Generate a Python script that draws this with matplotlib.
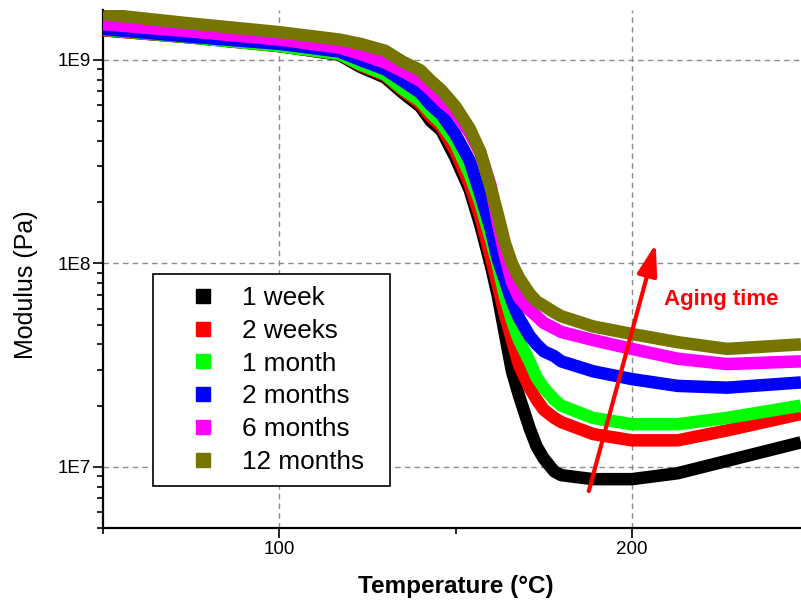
import matplotlib
matplotlib.use("Agg")
import matplotlib.pyplot as plt
from matplotlib.lines import Line2D
from matplotlib.ticker import FixedLocator, LogLocator, NullFormatter

plt.rcParams['font.family'] = ['Liberation Sans', 'DejaVu Sans']

# ---- data ----
temps = [50, 75, 100, 117, 123, 130, 135, 140, 143, 146, 150, 154, 157, 160,
         162, 164, 166, 168, 171, 173, 175, 178, 180, 189, 200, 213, 227, 248]

week1 = [1.40e9, 1.29e9, 1.17e9, 1.06e9, 9.25e8, 8.2e8, 6.9e8, 5.9e8, 5.0e8, 4.5e8,
         3.3e8, 2.3e8, 1.55e8, 9.8e7, 6.9e7, 4.5e7, 2.95e7, 2.24e7, 1.55e7, 1.26e7,
         1.10e7, 9.5e6, 9.1e6, 8.7e6, 8.7e6, 9.3e6, 1.07e7, 1.32e7]
weeks2 = [1.40e9, 1.29e9, 1.17e9, 1.07e9, 9.4e8, 8.4e8, 7.1e8, 6.1e8, 5.25e8, 4.7e8,
          3.55e8, 2.45e8, 1.70e8, 1.07e8, 7.8e7, 5.6e7, 4.2e7, 3.16e7, 2.45e7, 2.14e7,
          1.91e7, 1.74e7, 1.66e7, 1.45e7, 1.35e7, 1.35e7, 1.51e7, 1.82e7]
month1 = [1.41e9, 1.29e9, 1.17e9, 1.07e9, 9.5e8, 8.5e8, 7.2e8, 6.3e8, 5.5e8, 4.9e8,
          3.9e8, 2.75e8, 2.0e8, 1.32e8, 9.8e7, 6.9e7, 5.25e7, 4.2e7, 3.3e7, 2.75e7,
          2.45e7, 2.14e7, 2.0e7, 1.74e7, 1.62e7, 1.62e7, 1.74e7, 2.0e7]
months2 = [1.42e9, 1.30e9, 1.20e9, 1.10e9, 1.0e9, 9.0e8, 7.9e8, 6.9e8, 6.0e8, 5.4e8,
           4.3e8, 3.2e8, 2.2e8, 1.48e8, 1.05e8, 8.3e7, 6.5e7, 5.4e7, 4.4e7, 4.0e7,
           3.7e7, 3.5e7, 3.3e7, 2.95e7, 2.7e7, 2.5e7, 2.45e7, 2.6e7]
months6 = [1.50e9, 1.38e9, 1.26e9, 1.15e9, 1.07e9, 9.7e8, 8.8e8, 7.9e8, 7.1e8, 6.3e8,
           5.5e8, 4.4e8, 3.5e8, 2.4e8, 1.58e8, 1.10e8, 8.1e7, 6.8e7, 5.9e7, 5.5e7,
           5.1e7, 4.8e7, 4.6e7, 4.2e7, 3.8e7, 3.4e7, 3.2e7, 3.3e7]
months12 = [1.68e9, 1.51e9, 1.37e9, 1.26e9, 1.20e9, 1.11e9, 9.8e8, 8.9e8, 7.9e8, 7.1e8,
            5.9e8, 4.6e8, 3.55e8, 2.35e8, 1.74e8, 1.26e8, 1.0e8, 8.5e7, 7.1e7, 6.5e7,
            6.2e7, 5.75e7, 5.5e7, 4.9e7, 4.5e7, 4.1e7, 3.8e7, 4.0e7]

labels = ['1 week', '2 weeks', '1 month', '2 months', '6 months', '12 months']
colors = ['#000000', '#ff0000', '#00ff00', '#0000ff', '#ff00ff', '#757500']
series = [week1, weeks2, month1, months2, months6, months12]

x_ticks = [100, 200]
x_tick_labels = ['100', '200']
y_ticks = [1e7, 1e8, 1e9]
y_tick_labels = ['1E7', '1E8', '1E9']

arrow_tail = (187.8, 7.6e6)
arrow_head = (206.8, 1.25e8)
annot_text = 'Aging time'
annot_pos = (225.3, 6.65e7)

# ---- figure ----
fig = plt.figure(figsize=(8.01, 6.07), dpi=100)
ax = fig.add_axes([0.1286, 0.130, 0.8714, 0.8535])

for vals, col in zip(series, colors):
    ax.plot(temps, vals, color=col, lw=9, solid_joinstyle='round',
            solid_capstyle='butt', zorder=3)

ax.set_yscale('log')
ax.set_xlim(50, 248)
ax.set_ylim(5e6, 1.76e9)

ax.xaxis.set_major_locator(FixedLocator(x_ticks))
ax.set_xticklabels(x_tick_labels)
ax.xaxis.set_minor_locator(FixedLocator([50, 150, 250]))
ax.yaxis.set_major_locator(FixedLocator(y_ticks))
ax.set_yticklabels(y_tick_labels)
ax.yaxis.set_minor_locator(LogLocator(base=10, subs=range(2, 10)))
ax.yaxis.set_minor_formatter(NullFormatter())

ax.grid(True, which='major', color='#8c8c8c', linestyle=(0, (4, 3)), lw=1.0, zorder=0)
ax.set_axisbelow(True)

for s in ['top', 'right']:
    ax.spines[s].set_visible(False)
for s in ['left', 'bottom']:
    ax.spines[s].set_linewidth(1.6)

ax.tick_params(which='major', direction='out', length=7, width=1.2, labelsize=13.5, pad=2)
ax.tick_params(which='minor', direction='out', length=4.3, width=1.2)

ax.set_xlabel('Temperature (°C)', fontsize=17.5, fontweight='bold')
ax.set_ylabel('Modulus (Pa)', fontsize=18)
ax.xaxis.set_label_coords(0.505, -0.09)
ax.yaxis.set_label_coords(-0.093, 0.469)

ax.annotate('', xy=arrow_head, xytext=arrow_tail,
            arrowprops=dict(arrowstyle='-|>,head_length=19,head_width=6',
                            mutation_scale=1, color='red', lw=3,
                            shrinkA=0, shrinkB=0), zorder=6)
ax.text(annot_pos[0], annot_pos[1], annot_text, color='red', fontsize=16,
        fontweight='bold', ha='center', va='center', zorder=6)

handles = [Line2D([], [], marker='s', linestyle='none', color=c, markersize=9.5)
           for c in colors]
leg = ax.legend(handles, labels, loc='lower left',
                bbox_to_anchor=(0.0717, 0.0814, 0.339, 0.4), mode='expand',
                borderaxespad=0, fontsize=18.8, frameon=True, fancybox=False,
                edgecolor='black', framealpha=1, labelspacing=0.34,
                handlelength=2.9, handletextpad=0.05, borderpad=0.45)
leg.get_frame().set_linewidth(1.2)
leg.set_zorder(7)

fig.savefig('out.png', dpi=100)
